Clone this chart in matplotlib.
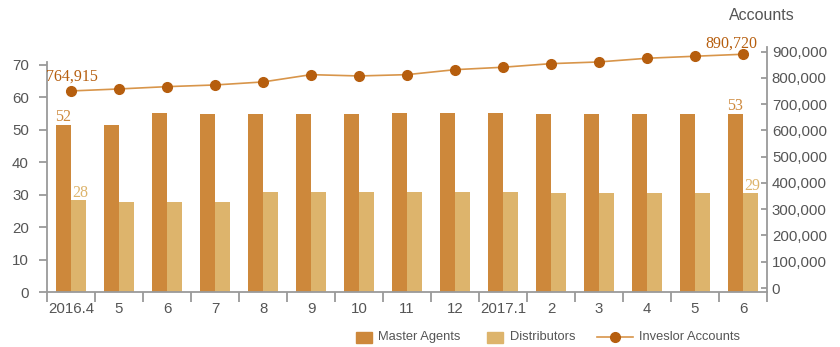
import matplotlib
matplotlib.use("Agg")
from matplotlib import pyplot as plt
from matplotlib.patches import Rectangle
from matplotlib.lines import Line2D
import numpy as np

plt.rcParams['font.family'] = ['Liberation Sans', 'DejaVu Sans']

months = ["2016.4", "5", "6", "7", "8", "9", "10", "11", "12",
          "2017.1", "2", "3", "4", "5", "6"]
master_agents = [51.5, 51.5, 55.1, 54.9, 54.9, 54.9, 54.9, 55.1, 55.1,
                 55.1, 54.9, 54.9, 54.9, 54.9, 54.9]
distributors = [28.4, 27.8, 27.8, 27.8, 30.9, 30.9, 30.9, 30.9, 30.9,
                30.9, 30.6, 30.6, 30.6, 30.6, 30.6]
investor_accounts = [750500, 758100, 766900, 773300, 784800, 812600, 807600,
                     812600, 831600, 840800, 854500, 861000, 875000, 882700,
                     890300]
# end labels as printed on the chart
master_labels = {0: "52", 14: "53"}
dist_labels = {0: "28", 14: "29"}
account_labels = {0: "764,915", 14: "890,720"}

c_master = "#cd883b"
c_dist = "#ddb46c"
c_line = "#d8954a"
c_marker = "#b65e0e"
c_text = "#555555"
c_spine = "#9a9a9a"
px = 0.72  # points per pixel at dpi 100

fig = plt.figure(figsize=(8.4, 3.47), dpi=100)
ax = fig.add_axes([47 / 840, 1 - 292 / 347, 720 / 840, 245 / 347])
ax2 = ax.twinx()

x = np.arange(len(months))
w = 0.31
ax.bar(x - 0.165, master_agents, w, color=c_master, zorder=2)
ax.bar(x + 0.165, distributors, w, color=c_dist, zorder=2)
ax2.plot(x, investor_accounts, color=c_line, lw=1.2, marker="o",
         markersize=7, markerfacecolor=c_marker, markeredgecolor=c_marker)

serif = ['Liberation Serif', 'DejaVu Serif']
for i, s in master_labels.items():
    ax.annotate(s, (x[i] - 0.165, master_agents[i]), xytext=(0, 8 * px),
                textcoords="offset points", ha="center", va="center",
                fontsize=11.5, family=serif, color=c_master)
for i, s in dist_labels.items():
    ax.annotate(s, (x[i] + 0.165, distributors[i]), xytext=(1 * px, 7 * px),
                textcoords="offset points", ha="center", va="center",
                fontsize=11.5, family=serif, color=c_dist)
acc_off = {0: (1, 14), 14: (-12, 11)}
for i, s in account_labels.items():
    dx, dy = acc_off[i]
    ax2.annotate(s, (x[i], investor_accounts[i]), xytext=(dx * px, dy * px),
                 textcoords="offset points", ha="center", va="center",
                 fontsize=11.5, family=serif, color=c_marker)

ax.set_xlim(-0.5, len(months) - 0.5)
ax.set_ylim(0, 75.55)
ax2.set_ylim(-15200, 917900)

ax.set_yticks(range(0, 71, 10))
ax2.set_yticks(range(0, 900001, 100000))
ax2.set_yticklabels([f"{v:,}" for v in range(0, 900001, 100000)])

ax.set_xticks(np.arange(-0.5, len(months)), [""] * (len(months) + 1))
ax.set_xticks(x, months, minor=True)
ax.tick_params(axis="x", which="major", length=7, width=1.3, color=c_spine,
               direction="out")
ax.tick_params(axis="x", which="minor", length=0, pad=7.5,
               labelsize=10.8, labelcolor=c_text)
ax.tick_params(axis="y", length=6, width=1.3, color=c_spine, pad=7,
               labelsize=10.8, labelcolor=c_text)
ax2.tick_params(axis="y", direction="in", length=4, width=1.3,
                color=c_spine, pad=3.5, labelsize=10.8, labelcolor=c_text)

for a in (ax, ax2):
    for sp in a.spines.values():
        sp.set_color(c_spine)
        sp.set_linewidth(1.3)
    a.spines["top"].set_visible(False)
ax.spines["right"].set_visible(False)
ax2.spines["left"].set_visible(False)
ax2.spines["bottom"].set_visible(False)
ax.spines["left"].set_bounds(0, 71)

fig.text(762 / 840, 1 - 16 / 347, "Accounts", ha="center", va="center",
         fontsize=11.5, color=c_text)

# legend
ly = 1 - 337 / 347
fig.patches.append(Rectangle((356 / 840, 1 - 343 / 347), 16 / 840, 11 / 347,
                             color=c_master, transform=fig.transFigure))
fig.text(378 / 840, ly, "Master Agents", va="center", fontsize=9.3, color=c_text)
fig.patches.append(Rectangle((487 / 840, 1 - 343 / 347), 16 / 840, 11 / 347,
                             color=c_dist, transform=fig.transFigure))
fig.text(510 / 840, ly, "Distributors", va="center", fontsize=9.3, color=c_text)
fig.lines.append(Line2D([597 / 840, 633 / 840], [ly, ly], color=c_line, lw=1.2,
                        transform=fig.transFigure))
fig.lines.append(Line2D([615 / 840], [ly], marker="o", markersize=7,
                        color=c_marker, transform=fig.transFigure))
fig.text(639 / 840, ly, "Inveslor Accounts", va="center", fontsize=9.3,
         color=c_text)

fig.savefig("out.png", dpi=100)
